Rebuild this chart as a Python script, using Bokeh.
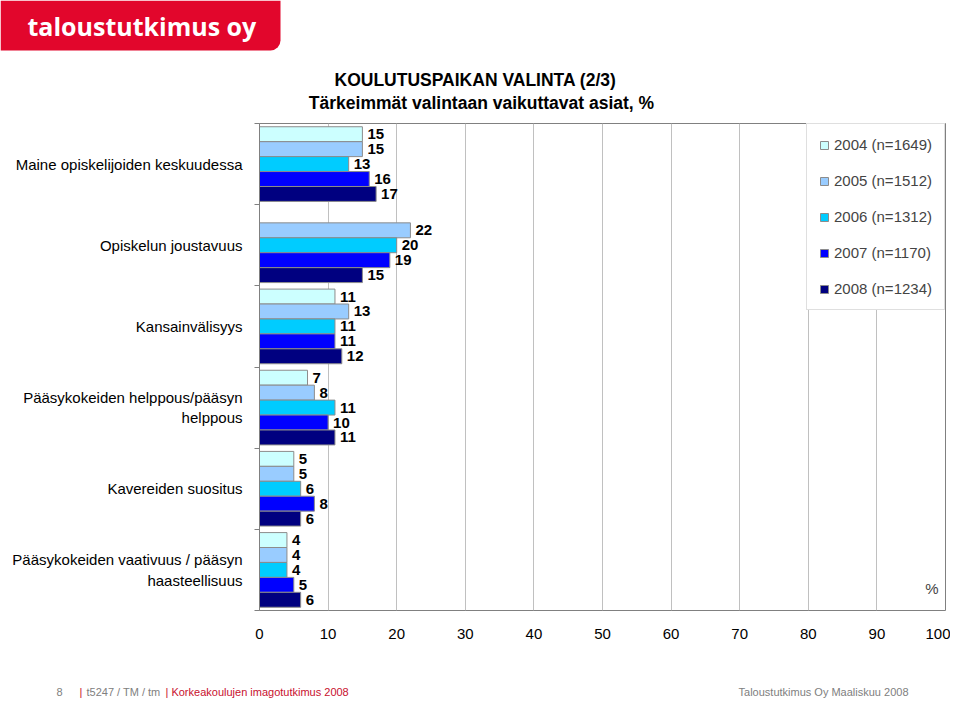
from bokeh.plotting import figure
from bokeh.layouts import column
from bokeh.models import (Range1d, FixedTicker, Legend, LegendItem, Label,
                          BoxAnnotation, ColumnDataSource)
from bokeh.core.properties import value
from bokeh.embed import file_html
from bokeh.resources import INLINE

# ---- data ----
categories = [
    "Maine opiskelijoiden keskuudessa",
    "Opiskelun joustavuus",
    "Kansainvälisyys",
    "Pääsykokeiden helppous/pääsyn\nhelppous",
    "Kavereiden suositus",
    "Pääsykokeiden vaativuus / pääsyn\nhaasteellisuus",
]
years = ["2004 (n=1649)", "2005 (n=1512)", "2006 (n=1312)", "2007 (n=1170)", "2008 (n=1234)"]
v2004 = [15, None, 11, 7, 5, 4]
v2005 = [15, 22, 13, 8, 5, 4]
v2006 = [13, 20, 11, 11, 6, 4]
v2007 = [16, 19, 11, 10, 8, 5]
v2008 = [17, 15, 12, 11, 6, 6]
series = [v2004, v2005, v2006, v2007, v2008]
colors = ["#CCFFFF", "#99CCFF", "#00CCFF", "#0000FF", "#000080"]
x_ticks = [0, 10, 20, 30, 40, 50, 60, 70, 80, 90, 100]

title1 = "KOULUTUSPAIKAN VALINTA (2/3)"
title2 = "Tärkeimmät valintaan vaikuttavat asiat, %"
logo_text = "taloustutkimus oy"
footer_left = [("8", "gray"), ("|", "red"), ("t5247 / TM / tm", "gray"),
               ("| Korkeakoulujen imagotutkimus 2008", "red")]
footer_right = "Taloustutkimus Oy Maaliskuu 2008"

FONT = value("Liberation Sans")
W = 950
GRAY = "#808080"
RED = "#C8102E"
LOGO_RED = "#E2062C"


def blank(h):
    f = figure(width=W, height=h, x_range=Range1d(0, W), y_range=Range1d(h, 0),
               output_backend="svg", toolbar_location=None,
               x_axis_location=None, y_axis_location=None,
               min_border=0, min_border_left=0, min_border_right=0,
               min_border_top=0, min_border_bottom=0, frame_align=False)
    f.outline_line_color = None
    f.background_fill_color = "white"
    f.border_fill_color = "white"
    f.grid.visible = False
    return f


# ---- header ----
hdr = blank(115)
hdr.add_layout(BoxAnnotation(left=0, right=280, top=0, bottom=50,
                             left_units="canvas", right_units="canvas",
                             top_units="canvas", bottom_units="canvas",
                             fill_color=LOGO_RED, fill_alpha=1, line_color=None,
                             border_radius=(0, 0, 10, 0)))
hdr.add_layout(Label(x=27, y=25, x_units="canvas", y_units="canvas",
                     text=logo_text, text_baseline="middle",
                     text_font="Open Sans", text_font_style="bold",
                     text_font_size="25px", text_color="white"))
hdr.add_layout(Label(x=475, y=79, x_units="canvas", y_units="canvas",
                     text=title1, text_align="center", text_baseline="middle",
                     text_font="Liberation Sans", text_font_style="bold",
                     text_font_size="17.5px", text_color="black"))
hdr.add_layout(Label(x=481, y=102, x_units="canvas", y_units="canvas",
                     text=title2, text_align="center", text_baseline="middle",
                     text_font="Liberation Sans", text_font_style="bold",
                     text_font_size="17.5px", text_color="black"))

# ---- main chart ----
n = len(categories)
p = figure(width=W, height=545, x_range=Range1d(0, 100),
           y_range=Range1d(n - 0.5, -0.5),
           output_backend="svg", toolbar_location=None,
           min_border_left=259, min_border_right=5,
           min_border_top=8, min_border_bottom=50, frame_align=False)
p.background_fill_color = "white"
p.border_fill_color = "white"
p.outline_line_color = "#808080"

p.xaxis.ticker = FixedTicker(ticks=x_ticks)
p.xaxis.axis_line_color = None
p.xaxis.major_tick_out = 0
p.xaxis.major_tick_in = 0
p.xaxis.minor_tick_line_color = None
p.xaxis.major_label_standoff = 18
p.xaxis.major_label_text_font_size = "15px"
p.xaxis.major_label_text_font = "Liberation Sans"
p.xaxis.major_label_text_color = "black"
p.xgrid.ticker = FixedTicker(ticks=x_ticks)
p.xgrid.grid_line_color = "#c0c0c0"
p.ygrid.grid_line_color = None

p.yaxis.ticker = FixedTicker(ticks=list(range(n)),
                             minor_ticks=[i - 0.5 for i in range(n + 1)])
p.yaxis.major_label_overrides = {i: c for i, c in enumerate(categories)}
p.yaxis.axis_line_color = "#808080"
p.yaxis.major_tick_out = 0
p.yaxis.major_tick_in = 0
p.yaxis.minor_tick_out = 5
p.yaxis.minor_tick_in = 0
p.yaxis.minor_tick_line_color = "#808080"
p.yaxis.major_label_standoff = 12
p.yaxis.major_label_text_font_size = "15px"
p.yaxis.major_label_text_font = "Liberation Sans"
p.yaxis.major_label_text_color = "black"

bh = 0.184
items = []
for j, (yr, vals, col) in enumerate(zip(years, series, colors)):
    ys, xs, txt = [], [], []
    for i, v in enumerate(vals):
        if v is None:
            continue
        ys.append(i - 0.5 + 0.04 + (j + 0.5) * bh)
        xs.append(v)
        txt.append(str(v))
    src = ColumnDataSource(dict(y=ys, x=xs, t=txt))
    r = p.hbar(y="y", right="x", left=0, height=bh, source=src,
               fill_color=col, line_color="#8c8c8c", line_width=1)
    p.text(x="x", y="y", text="t", source=src, x_offset=5,
           text_baseline="middle", text_align="left",
           text_font=FONT, text_font_style="bold", text_font_size="15px",
           text_color="black")
    items.append(LegendItem(label=yr, renderers=[r]))

legend = Legend(items=items, location="top_right", margin=0, padding=12,
                spacing=19, label_height=14, glyph_height=10, glyph_width=10,
                label_standoff=5, label_text_font_size="15px",
                label_text_font="Liberation Sans",
                border_line_color="#c0c0c0", background_fill_alpha=1)
p.add_layout(legend)

p.add_layout(Label(x=100, y=n - 0.5, x_offset=-7, y_offset=22, text="%",
                   text_align="right", text_baseline="middle",
                   text_font="Liberation Sans", text_font_size="15px"))

# ---- footer ----
ftr = blank(40)
fx = [56, 79, 86, 165]
for xx, (t, c) in zip(fx, footer_left):
    ftr.add_layout(Label(x=xx, y=31, x_units="canvas", y_units="canvas", text=t,
                         text_baseline="middle", text_font="Liberation Sans",
                         text_font_size="11px",
                         text_color=GRAY if c == "gray" else RED))
ftr.add_layout(Label(x=908, y=31, x_units="canvas", y_units="canvas",
                     text=footer_right, text_align="right",
                     text_baseline="middle", text_font="Liberation Sans",
                     text_font_size="11px", text_color=GRAY))

page = column(hdr, p, ftr, spacing=0)
open("out.html", "w").write(file_html(page, INLINE))
